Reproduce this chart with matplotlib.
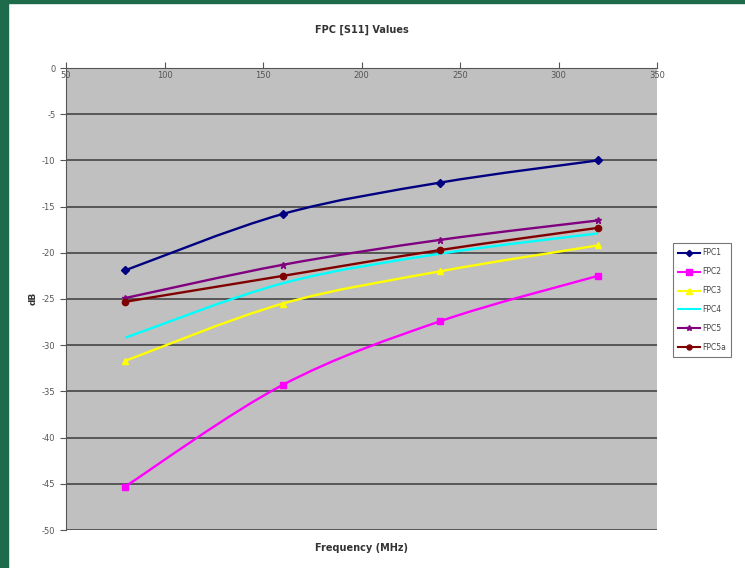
import matplotlib
matplotlib.use("Agg")
import matplotlib.pyplot as plt
import numpy as np
from matplotlib.path import Path
from matplotlib.patches import PathPatch, Rectangle
from matplotlib.lines import Line2D

plt.rcParams["axes.unicode_minus"] = False

# Return loss per board, dB
freq = [80, 160, 240, 320]
fpc1 = [-21.9, -15.8, -12.4, -10.0]
fpc2 = [-45.3, -34.3, -27.4, -22.5]
fpc3 = [-31.7, -25.5, -22.0, -19.2]
fpc4 = [-29.2, -23.3, -20.1, -17.9]
fpc5 = [-24.9, -21.3, -18.6, -16.5]
fpc5a = [-25.3, -22.5, -19.7, -17.3]

names = ["FPC1", "FPC2", "FPC3", "FPC4", "FPC5", "FPC5a"]
series = [fpc1, fpc2, fpc3, fpc4, fpc5, fpc5a]
colors = ["#000080", "#ff00ff", "#ffff00", "#00ffff", "#800080", "#800000"]
markers = ["D", "s", "^", None, "*", "o"]
msizes = [4, 5, 5, 0, 5, 4.5]


def smooth_path(x, y):
    # Catmull-Rom style bezier through the points (like a spreadsheet "smoothed line")
    pts = np.column_stack([x, y]).astype(float)
    ext = np.vstack([pts[0], pts, pts[-1]])
    verts = [pts[0]]
    codes = [Path.MOVETO]
    for i in range(len(pts) - 1):
        p0, p1, p2, p3 = ext[i], ext[i + 1], ext[i + 2], ext[i + 3]
        c1 = p1 + (p2 - p0) / 6.0
        c2 = p2 - (p3 - p1) / 6.0
        verts += [c1, c2, p2]
        codes += [Path.CURVE4] * 3
    return Path(verts, codes)


fig = plt.figure(figsize=(7.45, 5.68), dpi=100)
fig.patch.set_facecolor("white")
# green frame on the left and top edges
fig.patches.append(Rectangle((0, 0), 8 / 745, 1, transform=fig.transFigure,
                             color="#1d6b4b", zorder=0))
fig.patches.append(Rectangle((0, 1 - 3 / 568), 1, 3 / 568, transform=fig.transFigure,
                             color="#1d6b4b", zorder=0))

ax = fig.add_axes([66 / 745, 38 / 568, 591 / 745, 462 / 568])
ax.set_facecolor("#c0c0c0")
ax.set_xlim(50, 350)
ax.set_ylim(-50, 0)
ax.set_xticks(np.arange(50, 351, 50))
ax.set_yticks(np.arange(-50, 1, 5))
ax.yaxis.grid(True, color="#454545", linewidth=1.2)
ax.set_axisbelow(True)

ax.tick_params(axis="x", top=True, bottom=False, labeltop=True, labelbottom=False,
               direction="out", length=4, pad=-13, labelsize=6, colors="#555555")
ax.tick_params(axis="y", direction="out", length=4, labelsize=6, colors="#555555")
for side in ["right", "bottom"]:
    ax.spines[side].set_visible(False)
ax.spines["top"].set_color("#555555")
ax.spines["left"].set_color("#555555")

for vals, c, m, ms in zip(series, colors, markers, msizes):
    ax.add_patch(PathPatch(smooth_path(freq, vals), facecolor="none",
                           edgecolor=c, linewidth=1.7, zorder=3))
    if m:
        ax.plot(freq, vals, linestyle="none", marker=m, color=c,
                markersize=ms, zorder=4)

fig.text(0.5 * (66 + 657) / 745, 1 - 30 / 568, "FPC [S11] Values",
         ha="center", va="center", fontsize=7, fontweight="bold", color="#333333")
fig.text(0.5 * (66 + 657) / 745, 1 - 548 / 568, "Frequency (MHz)",
         ha="center", va="center", fontsize=7, fontweight="bold", color="#333333")
fig.text(33 / 745, 1 - 298 / 568, "dB", rotation=90,
         ha="center", va="center", fontsize=6.5, fontweight="bold", color="#333333")

handles = [Line2D([], [], color=c, marker=m if m else None, markersize=ms * 0.8,
                  linewidth=1.5) for c, m, ms in zip(colors, markers, msizes)]
leg = fig.legend(handles, names, loc="upper left",
                 bbox_to_anchor=(673 / 745, 1 - 243 / 568),
                 fontsize=5.5, frameon=True, fancybox=False,
                 handlelength=2.8, handletextpad=0.3, labelspacing=1.3,
                 borderpad=0.7, borderaxespad=0)
leg.get_frame().set_edgecolor("#555555")
leg.get_frame().set_linewidth(0.8)
for t in leg.get_texts():
    t.set_color("#444444")

fig.savefig("out.png", dpi=100)
